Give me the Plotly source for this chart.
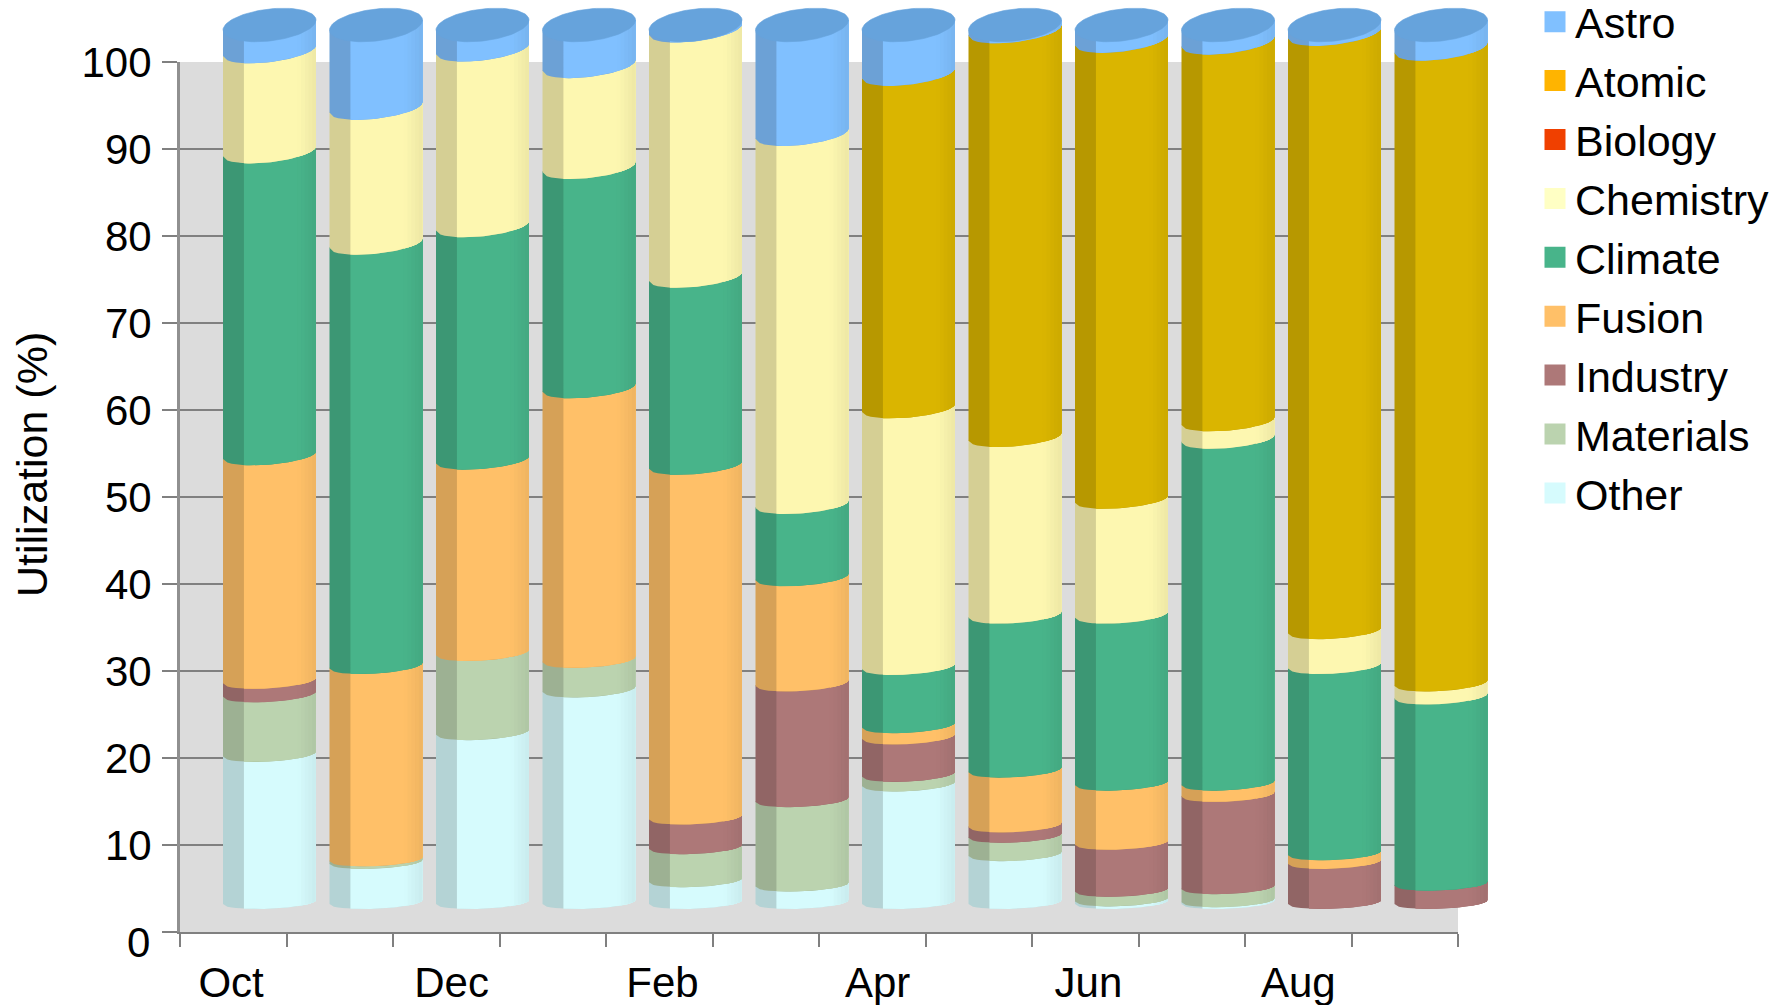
import numpy as np
import plotly.graph_objects as go

months = ["Oct", "Nov", "Dec", "Jan", "Feb", "Mar", "Apr", "May", "Jun", "Jul", "Aug", "Sep"]
month_label_pos = [0.48, 2.55, 4.53, 6.55, 8.53, 10.5]

# Share of machine time per month, percent
other     = [16.9, 4.6, 19.4, 24.3, 2.5, 2.0, 13.5, 5.5, 0.3, 0.2, 0.0, 0.0]
materials = [6.85, 0.3, 9.1, 3.4, 3.8, 9.7, 1.1, 2.1, 1.1, 1.5, 0.0, 0.0]
industry  = [1.55, 0.0, 0.0, 0.0, 3.4, 13.3, 4.3, 1.2, 5.4, 10.6, 4.6, 2.1]
fusion    = [25.7, 22.1, 22.0, 31.0, 40.2, 12.1, 1.3, 6.3, 6.8, 1.3, 1.0, 0.0]
climate   = [34.7, 48.2, 26.7, 25.2, 21.5, 8.3, 6.7, 17.7, 19.2, 39.3, 21.4, 21.4]
chemistry = [11.5, 15.5, 20.2, 11.6, 28.2, 42.3, 29.5, 20.3, 13.2, 2.0, 4.0, 1.5]
biology   = [0.0] * 12
atomic    = [0.0, 0.0, 0.0, 0.0, 0.0, 0.0, 38.2, 46.4, 52.4, 43.3, 68.2, 72.5]
astro     = [2.8, 9.3, 2.6, 4.5, 0.4, 12.3, 5.4, 0.5, 1.6, 1.8, 0.8, 2.5]

# Stack order from the floor upward
stack = [
    ("Other", other, "#D6FBFD"),
    ("Materials", materials, "#BBD3AF"),
    ("Industry", industry, "#AD7878"),
    ("Fusion", fusion, "#FFC068"),
    ("Climate", climate, "#48B48A"),
    ("Chemistry", chemistry, "#FDF7B0"),
    ("Biology", biology, "#F04000"),
    ("Atomic", atomic, "#DAB500"),
    ("Astro", astro, "#80C0FF"),
]
legend_order = ["Astro", "Atomic", "Biology", "Chemistry", "Climate",
                "Fusion", "Industry", "Materials", "Other"]
legend_colors = {"Atomic": "#FFB400", "Chemistry": "#FFFFC4"}

W, H = 1790, 1005
WALL_L, WALL_R, WALL_TOP, WALL_BOTTOM = 180, 1458, 62, 932
PX_PER_PCT = (WALL_BOTTOM - WALL_TOP) / 100
BAND_PX = (WALL_R - WALL_L) / 12
BAR_X0 = 269.5       # pixel centre of the first cylinder
BAR_FLOOR = 909      # pixel row of a cylinder's front base
HALF_WIDTH = 46.5 / BAND_PX
FONT = "Liberation Sans"

# Shading across a cylinder: each slice runs from its start to the right rim and
# the next one paints over it, so no seams show. (start, brightness)
slices = [(-1.0, 0.84), (-0.55, 1.0), (0.6, 0.995), (0.68, 0.982),
          (0.76, 0.969), (0.84, 0.956), (0.92, 0.943)]


def shade(hex_color, k):
    r, g, b = (int(hex_color[i:i + 2], 16) for i in (1, 3, 5))
    return f"rgb({r * k:.0f},{g * k:.0f},{b * k:.0f})"


def rim(t, v):
    """Front rim of a cylinder section at stack height v, in percent units."""
    ry = 6.7 + 0.052 * v
    tilt = 2 + 0.036 * v
    low = np.hypot(ry, tilt)
    return v - (-tilt * t + ry * np.sqrt(np.clip(1 - t ** 2, 0, 1)) - low) / PX_PER_PCT


def cap_mid(t, v):
    return v + (14 + 5 * t) / PX_PER_PCT


fig = go.Figure()

# Backdrop wall, sitting under the gridlines
fig.add_shape(type="rect", xref="x", yref="y", x0=0, x1=12, y0=0, y1=100,
              fillcolor="#DCDCDC", line_width=0, layer="below")

totals = np.sum([s[1] for s in stack], axis=0)

# Cylinder sides, one trace per series and shading slice; each section runs a
# little under the one stacked on it
bottoms = np.zeros(12)
for name, values, color in stack:
    vals = np.array(values, dtype=float)
    tops = bottoms + vals
    for a, k in slices:
        ts = np.concatenate([np.linspace(a, 0.97, 22), [0.985, 0.995, 1.0]])
        xs, ys = [], []
        for i in range(12):
            if vals[i] <= 0:
                continue
            if name == "Astro":
                upper = cap_mid(ts, tops[i])
            else:
                upper = rim(ts, tops[i]) + 0.1
            lower = rim(ts, bottoms[i])
            xs += list(i + ts * HALF_WIDTH) + list(i + ts[::-1] * HALF_WIDTH) + [None]
            ys += list(upper) + list(lower[::-1]) + [None]
        fig.add_trace(go.Scatter(
            x=xs, y=ys, xaxis="x2", yaxis="y2", mode="lines", fill="toself",
            fillcolor=shade(color, k), line=dict(width=0),
            legendgroup=name, showlegend=False, hoverinfo="skip"))
    bottoms = tops

# Elliptical lids on top of each stack
theta = np.linspace(0, 2 * np.pi, 90)
cap_x, cap_y = [], []
for i in range(12):
    t = np.cos(theta)
    cap_x += list(i + t * HALF_WIDTH) + [None]
    cap_y += list(cap_mid(t, totals[i]) - 16 * np.sin(theta) / PX_PER_PCT) + [None]
fig.add_trace(go.Scatter(
    x=cap_x, y=cap_y, xaxis="x2", yaxis="y2", mode="lines", fill="toself",
    fillcolor="#66A3DC", line=dict(color="#66A3DC", width=0.6),
    legendgroup="Astro", showlegend=False, hoverinfo="skip"))

# Legend entries
colors = {n: c for n, _, c in stack}
for name in legend_order:
    c = legend_colors.get(name, colors[name])
    fig.add_trace(go.Scatter(
        x=[None], y=[None], mode="markers", name=name, legendgroup=name,
        marker=dict(symbol="square", size=16, color=c, line=dict(color=c, width=5))))

tick_font = dict(family=FONT, size=42, color="black")
y_ticks = list(range(0, 101, 10))
fig.update_layout(
    width=W, height=H, margin=dict(l=0, r=0, t=0, b=0, autoexpand=False),
    paper_bgcolor="white", plot_bgcolor="rgba(0,0,0,0)",
    font=tick_font,
    xaxis=dict(domain=[WALL_L / W, WALL_R / W], range=[0, 12], anchor="y",
               tickmode="array", tickvals=month_label_pos,
               ticktext=months[::2], ticks="outside", ticklen=0, tickfont=tick_font,
               ticklabelstandoff=13, showgrid=False, zeroline=False,
               showline=True, linecolor="#808080", linewidth=2,
               minor=dict(tickmode="array", tickvals=list(range(13)), ticks="outside",
                          ticklen=13, tickcolor="#808080", tickwidth=2, showgrid=False)),
    yaxis=dict(domain=[(H - WALL_BOTTOM) / H, (H - WALL_TOP) / H], range=[0, 100], anchor="x",
               tickmode="array", tickvals=y_ticks,
               ticktext=[""] + [str(v) for v in y_ticks[1:]],
               ticks="outside", ticklen=15, tickcolor="#808080", tickwidth=1.5,
               tickfont=tick_font, ticklabelstandoff=2,
               showgrid=True, gridcolor="#808080", gridwidth=1.5, zeroline=False,
               showline=True, linecolor="#909090", linewidth=3),
    xaxis2=dict(domain=[0, 1], anchor="y2", visible=False,
                range=[-BAR_X0 / BAND_PX, (W - BAR_X0) / BAND_PX]),
    yaxis2=dict(domain=[0, 1], anchor="x2", visible=False,
                range=[(BAR_FLOOR - H) / PX_PER_PCT, BAR_FLOOR / PX_PER_PCT]),
    legend=dict(x=1535 / W, y=1.0127, xanchor="left", yanchor="top", maxheight=600,
                font=dict(family=FONT, size=43, color="black"),
                bgcolor="rgba(0,0,0,0)", traceorder="grouped",
                tracegroupgap=0, itemclick=False, itemdoubleclick=False),
    annotations=[
        dict(text="Utilization (%)", xref="paper", yref="paper",
             x=32 / W, y=1 - 465 / H, xanchor="center", yanchor="middle",
             showarrow=False, textangle=-90,
             font=dict(family=FONT, size=43, color="black")),
        # the zero label hangs a little below its tick
        dict(text="0", xref="paper", yref="paper", x=152 / W, y=1 - 942 / H,
             xanchor="right", yanchor="middle", showarrow=False, font=tick_font),
    ],
)

fig.write_html("out.html")
